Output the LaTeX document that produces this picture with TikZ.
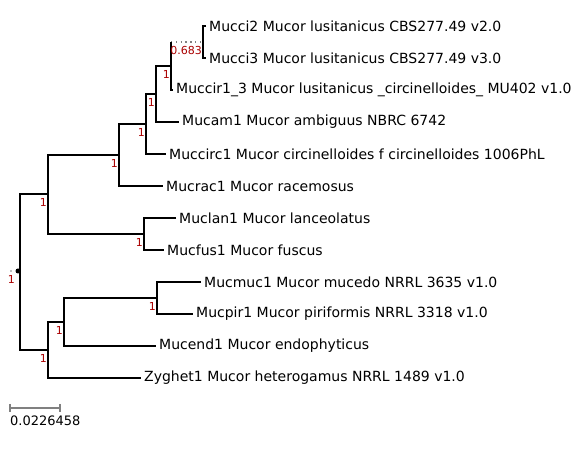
\documentclass[tikz,border=0pt]{standalone}
\usepackage{fontspec}
\setmainfont{DejaVu Sans}
\definecolor{supred}{RGB}{170,0,0}
\begin{document}
\begin{tikzpicture}[x=1pt,y=-1pt,
  branch/.style={line width=1.5pt,line join=miter},
  leaf/.style={anchor=west,inner sep=3pt,font=\fontsize{14}{16}\selectfont},
  support/.style={anchor=north east,inner sep=1pt,yshift=-3pt,font=\fontsize{11}{12}\selectfont}]
\useasboundingbox (0,0) rectangle (582,454);

% Leaves (name/x/y/label)
\foreach \name/\x/\y/\txt in {
    mucciA/206/26/{Mucci2 Mucor lusitanicus CBS277.49 v2.0},
    mucciB/206/58/{Mucci3 Mucor lusitanicus CBS277.49 v3.0},
    muccir/173/90/{Muccir1\_3 Mucor lusitanicus \_circinelloides\_ MU402 v1.0},
    mucam/179/122/{Mucam1 Mucor ambiguus NBRC 6742},
    muccirc/166/154/{Muccirc1 Mucor circinelloides f circinelloides 1006PhL},
    mucrac/163/186/{Mucrac1 Mucor racemosus},
    muclan/176/218/{Muclan1 Mucor lanceolatus},
    mucfus/164/250/{Mucfus1 Mucor fuscus},
    mucmuc/201/282/{Mucmuc1 Mucor mucedo NRRL 3635 v1.0},
    mucpir/193/314/{Mucpir1 Mucor piriformis NRRL 3318 v1.0},
    mucend/156/346/{Mucend1 Mucor endophyticus},
    zyghet/141/378/{Zyghet1 Mucor heterogamus NRRL 1489 v1.0}} {
    \node[leaf] (\name) at (\x,\y) {\txt};
}

% Internal nodes
\coordinate (nF) at (203,42);
\coordinate (nE) at (171,66);
\coordinate (nD) at (156,94);
\coordinate (nC) at (146,124);
\coordinate (nB) at (119,155);
\coordinate (nG) at (144,234);
\coordinate (nA) at (48,194);
\coordinate (nH) at (157,298);
\coordinate (nI) at (64,322);
\coordinate (nJ) at (48,350);
\coordinate (root) at (20,271);

% Branches
\draw[branch] (mucciA.west) -- (mucciA.west -| nF) -- (mucciB.west -| nF) -- (mucciB.west);
\draw[gray,line width=1.2pt,dash pattern=on 1.3pt off 3.5pt] (nE |- nF) -- (nF);
\draw[branch] (nE |- nF) -- (muccir.west -| nE) -- (muccir.west);
\draw[branch] (nE) -- (nE -| nD) -- (mucam.west -| nD) -- (mucam.west);
\draw[branch] (nD) -- (nD -| nC) -- (muccirc.west -| nC) -- (muccirc.west);
\draw[branch] (nC) -- (nC -| nB) -- (mucrac.west -| nB) -- (mucrac.west);
\draw[branch] (muclan.west) -- (muclan.west -| nG) -- (mucfus.west -| nG) -- (mucfus.west);
\draw[branch] (nB) -- (nB -| nA) -- (nG -| nA) -- (nG);
\draw[branch] (mucmuc.west) -- (mucmuc.west -| nH) -- (mucpir.west -| nH) -- (mucpir.west);
\draw[branch] (nH) -- (nH -| nI) -- (mucend.west -| nI) -- (mucend.west);
\draw[branch] (nI) -- (nI -| nJ) -- (zyghet.west -| nJ) -- (zyghet.west);
\draw[branch] (nA) -- (nA -| root) -- (nJ -| root) -- (nJ);

% Root
\fill[gray] (11,271) circle (0.8pt);
\fill ([xshift=-2pt]root) circle (2.5pt);

% Support values
\node[support] (sF) at (nF) {\textcolor{supred}{0.683}};
\node[support] (sE) at (nE) {\textcolor{supred}{1}};
\node[support] (sD) at (nD) {\textcolor{supred}{1}};
\node[support] (sC) at (nC) {\textcolor{supred}{1}};
\node[support] (sB) at (nB) {\textcolor{supred}{1}};
\node[support] (sG) at (nG) {\textcolor{supred}{1}};
\node[support] (sA) at (nA) {\textcolor{supred}{1}};
\node[support] (sH) at (nH) {\textcolor{supred}{1}};
\node[support] (sI) at (nI) {\textcolor{supred}{1}};
\node[support] (sJ) at (nJ) {\textcolor{supred}{1}};
\node[support] (sroot) at ([xshift=-4pt]root) {\textcolor{supred}{1}};

% Scale bar
\coordinate (sbl) at (10,408);
\coordinate (sbr) at (60,408);
\draw[gray,line width=1.2pt] (sbl) -- (sbr);
\draw[gray,line width=1.2pt] ([yshift=4pt]sbl) -- ([yshift=-4pt]sbl);
\draw[gray,line width=1.2pt] ([yshift=4pt]sbr) -- ([yshift=-4pt]sbr);
\node[anchor=north west,inner sep=0pt,font=\fontsize{13}{15}\selectfont] (sblabel) at (10,416) {0.0226458};
\end{tikzpicture}
\end{document}
